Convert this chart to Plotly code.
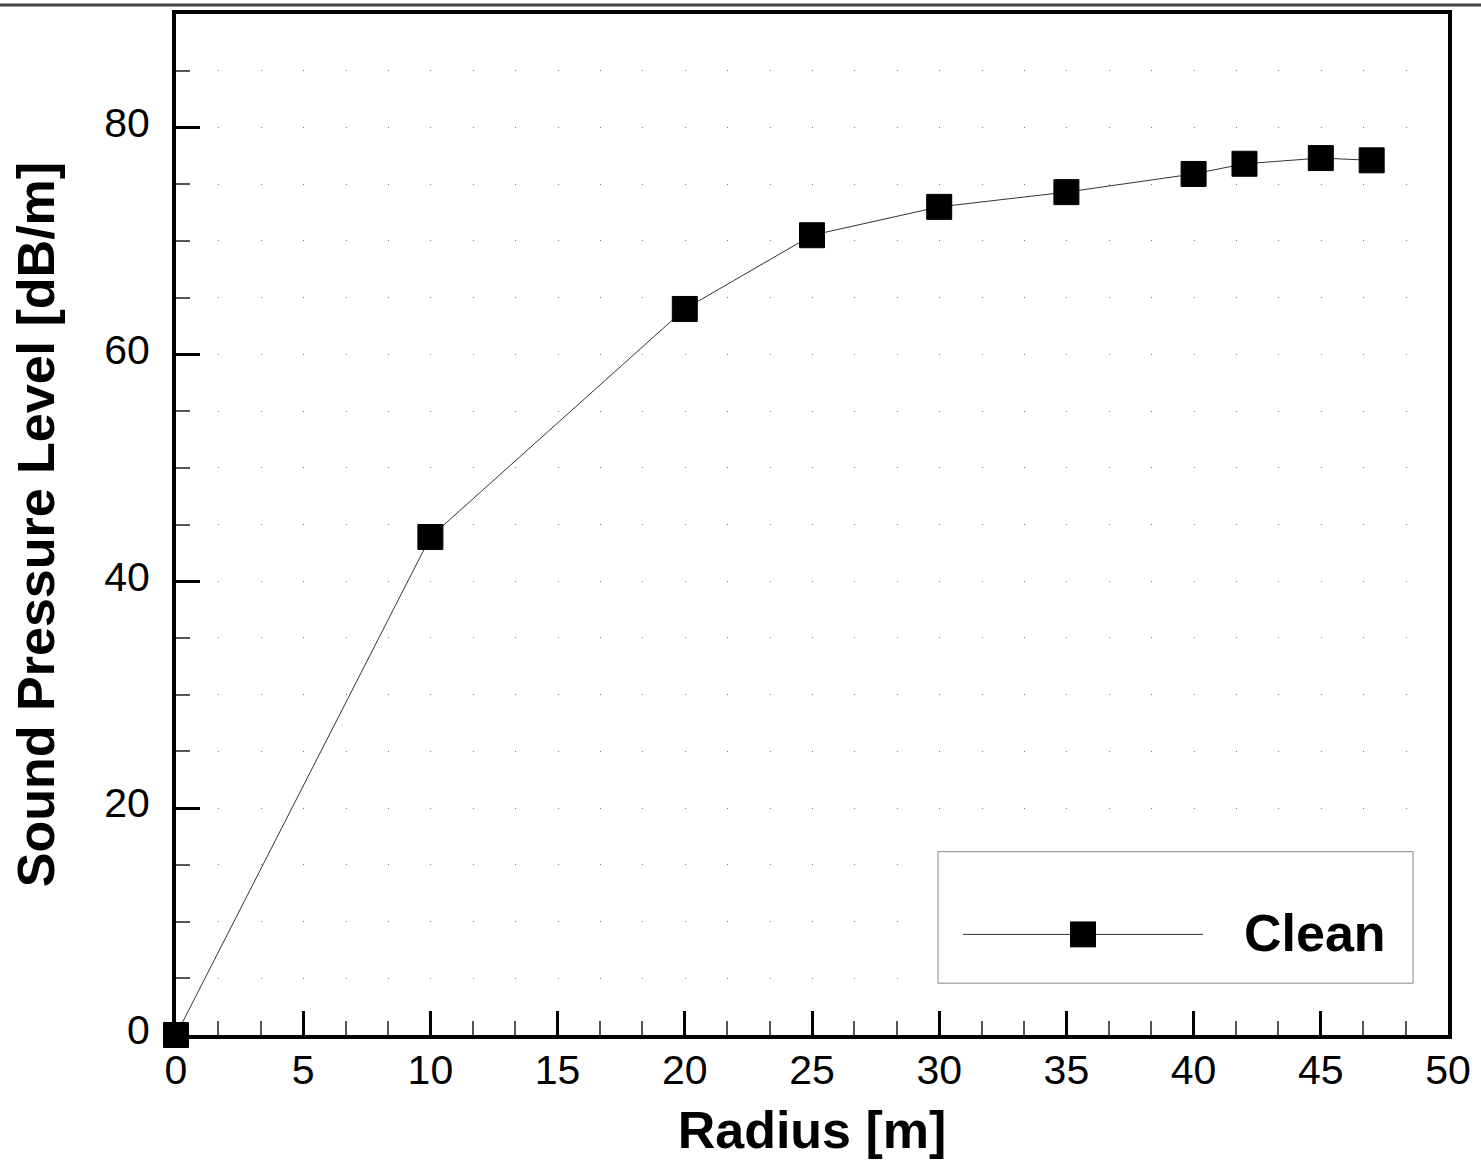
import plotly.graph_objects as go

# ---- data ----
radius = [0, 10, 20, 25, 30, 35, 40, 42, 45, 47]
spl = [0.0, 43.9, 64.0, 70.5, 73.0, 74.3, 75.9, 76.8, 77.3, 77.1]
series_name = "Clean"
x_title = "Radius [m]"
y_title = "Sound Pressure Level [dB/m]"

# ---- layout geometry ----
W, H = 1481, 1160
L, R, T, B = 176, 33, 10, 125
PW, PH = W - L - R, H - T - B
FONT = "Liberation Sans, Arial, Helvetica, sans-serif"

def px_x(px):
    return (px - L) / PW

def px_y(py):
    return (H - B - py) / PH

fig = go.Figure()
fig.add_trace(go.Scatter(
    x=radius, y=spl, mode="lines+markers", name=series_name,
    line=dict(color="#333333", width=1),
    marker=dict(symbol="square", size=25, color="black",
                line=dict(color="black", width=1)),
    showlegend=False, cliponaxis=False,
))

dot_dash = "1px,%.3fpx" % (PW / 30 - 1)

fig.update_xaxes(
    range=[0, 50], dtick=5, tick0=0,
    showline=True, linecolor="black", linewidth=4, mirror=True,
    ticks="inside", ticklen=24, tickwidth=3, tickcolor="black",
    tickfont=dict(family=FONT, size=41, color="black"),
    ticklabelstandoff=-4,
    showgrid=False, zeroline=False,
    minor=dict(dtick=5 / 3, tick0=0, ticks="inside", ticklen=14,
               tickwidth=1.5, tickcolor="#555555", showgrid=False),
    title=dict(text="<b>%s</b>" % x_title,
               font=dict(family=FONT, size=52, color="black"), standoff=20),
)
fig.update_yaxes(
    range=[0, 90], dtick=20, tick0=0,
    showline=True, linecolor="black", linewidth=4, mirror=True,
    ticks="inside", ticklen=24, tickwidth=3, tickcolor="black",
    tickfont=dict(family=FONT, size=41, color="black"),
    ticklabelstandoff=14, ticklabelshift=-5,
    showgrid=True, gridcolor="#777777", gridwidth=1, griddash=dot_dash,
    zeroline=False,
    minor=dict(dtick=5, tick0=0, ticks="inside", ticklen=14,
               tickwidth=1.5, tickcolor="#555555",
               showgrid=True, gridcolor="#777777", gridwidth=1, griddash=dot_dash),
    title=dict(text="<b>%s</b>" % y_title,
               font=dict(family=FONT, size=52, color="black"), standoff=34),
)

shapes = [
    # dark strip at top of image
    dict(type="line", xref="paper", yref="paper",
         x0=px_x(0), x1=px_x(W), y0=px_y(1), y1=px_y(1),
         line=dict(color="#444444", width=3)),
    # legend box
    dict(type="rect", xref="paper", yref="paper",
         x0=px_x(938), x1=px_x(1413), y0=px_y(983), y1=px_y(851),
         line=dict(color="#888888", width=1), fillcolor="white", layer="above"),
    # legend line
    dict(type="line", xref="paper", yref="paper",
         x0=px_x(963), x1=px_x(1203), y0=px_y(934), y1=px_y(934),
         line=dict(color="#333333", width=1), layer="above"),
    # legend marker
    dict(type="rect", xref="paper", yref="paper",
         x0=px_x(1070), x1=px_x(1096), y0=px_y(947), y1=px_y(921),
         line=dict(color="black", width=0), fillcolor="black", layer="above"),
]

annotations = [
    dict(text="<b>%s</b>" % series_name, xref="paper", yref="paper",
         x=px_x(1242), y=px_y(933), xanchor="left", yanchor="middle",
         showarrow=False, font=dict(family=FONT, size=52, color="black")),
]

fig.update_layout(
    width=W, height=H,
    margin=dict(l=L, r=R, t=T, b=B, pad=0),
    paper_bgcolor="white", plot_bgcolor="white",
    shapes=shapes, annotations=annotations,
    showlegend=False,
)

fig.write_html(
    "out.html",
    config={"displayModeBar": False},
    post_script="document.body.style.margin='0';document.body.style.overflow='hidden';",
)
